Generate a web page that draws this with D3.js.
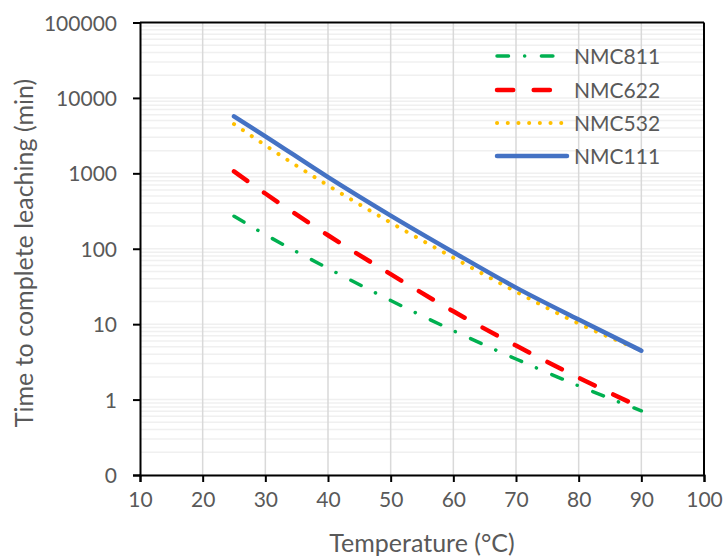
<!DOCTYPE html>
<html>
<head>
<meta charset="utf-8">
<script src="https://cdn.jsdelivr.net/npm/d3@7"></script>
<style>
  html, body { margin: 0; padding: 0; background: #ffffff; }
  svg { display: block; font-family: Lato, "Open Sans", sans-serif; }
</style>
</head>
<body>
<svg id="chart" width="725" height="557"></svg>
<script>
// ---- data ----
const temperatures = [25, 30, 40, 50, 60, 70, 80, 90];
const nmc811 = [270, 154, 55, 20.6, 8.2, 3.45, 1.52, 0.71];
const nmc622 = [1060, 540, 151, 46, 14.8, 5.2, 1.95, 0.78];
const nmc532 = [4500, 2350, 690, 222, 76, 27, 10.2, 4.5];
const nmc111 = [5700, 3100, 890, 275, 90, 30.5, 11.5, 4.45];
const seriesNames = ["NMC811", "NMC622", "NMC532", "NMC111"];
const xTicks = [10, 20, 30, 40, 50, 60, 70, 80, 90, 100];
const yTicks = [0.1, 1, 10, 100, 1000, 10000, 100000];
const yTickLabels = ["0", "1", "10", "100", "1000", "10000", "100000"];
const xTitle = "Temperature (°C)";
const yTitle = "Time to complete leaching (min)";

// ---- layout / styles ----
const L = 140, R = 704, T = 22.5, B = 475;
const styles = {
  NMC811: { color: "#00B050", width: 3.5, dash: "11.5,16.1,0.1,16.7" },
  NMC622: { color: "#FF0000", width: 4.5, dash: "16.2,20.5" },
  NMC532: { color: "#FFC000", width: 4,   dash: "0.1,10.6" },
  NMC111: { color: "#4472C4", width: 4.5, dash: null }
};
const seriesValues = { NMC811: nmc811, NMC622: nmc622, NMC532: nmc532, NMC111: nmc111 };

const svg = d3.select("#chart");
svg.append("rect").attr("width", 725).attr("height", 557).attr("fill", "#fff");

const x = d3.scaleLinear().domain([10, 100]).range([L, R]);
const y = d3.scaleLog().domain([0.1, 100000]).range([B, T]);

// minor horizontal gridlines
const minor = [];
for (let e = -1; e < 5; e++) {
  for (let m = 1; m <= 9; m++) minor.push(m * Math.pow(10, e));
}
svg.append("g").selectAll("line").data(minor).join("line")
  .attr("x1", L).attr("x2", R)
  .attr("y1", d => y(d)).attr("y2", d => y(d))
  .attr("stroke", "#f0f0f0").attr("stroke-width", 1.5);

// vertical gridlines
svg.append("g").selectAll("line").data(xTicks.slice(1, -1)).join("line")
  .attr("x1", d => x(d)).attr("x2", d => x(d))
  .attr("y1", T).attr("y2", B)
  .attr("stroke", "#d9d9d9").attr("stroke-width", 1.5);

// plot border top/right
svg.append("line").attr("x1", L).attr("x2", R).attr("y1", T).attr("y2", T)
  .attr("stroke", "#000").attr("stroke-width", 2);
svg.append("line").attr("x1", R).attr("x2", R).attr("y1", T).attr("y2", B)
  .attr("stroke", "#000").attr("stroke-width", 2);

// axes
const xAxis = d3.axisBottom(x).tickValues(xTicks).tickSize(7).tickPadding(10).tickFormat(d3.format("d"));
const gx = svg.append("g").attr("transform", `translate(0,${B})`).call(xAxis);
const yAxis = d3.axisLeft(y).tickValues(yTicks).tickSize(7).tickPadding(16)
  .tickFormat((d, i) => yTickLabels[i]);
const gy = svg.append("g").attr("transform", `translate(${L},0)`).call(yAxis);
[gx, gy].forEach(g => {
  g.select(".domain").attr("stroke", "#000").attr("stroke-width", 2);
  g.selectAll(".tick line").attr("stroke", "#000").attr("stroke-width", 2);
  g.selectAll(".tick text").attr("fill", "#595959").style("font-size", "21px")
    .style("font-family", "Lato, 'Open Sans', sans-serif");
});
gy.selectAll(".tick text").attr("dy", "0.36em");
gx.selectAll(".tick text").attr("dy", "0.72em");

// axis titles
svg.append("text").attr("x", (L + R) / 2).attr("y", 552)
  .attr("text-anchor", "middle").attr("fill", "#595959")
  .style("font-size", "25px").text(xTitle);
svg.append("text").attr("transform", `translate(33,${253}) rotate(-90)`)
  .attr("text-anchor", "middle").attr("fill", "#595959")
  .style("font-size", "25px").text(yTitle);

// series lines
const line = d3.line().x(d => x(d[0])).y(d => y(d[1])).curve(d3.curveMonotoneX);
seriesNames.forEach(name => {
  const st = styles[name];
  const pts = temperatures.map((t, i) => [t, seriesValues[name][i]]);
  svg.append("path").datum(pts).attr("d", line)
    .attr("fill", "none").attr("stroke", st.color)
    .attr("stroke-width", st.width).attr("stroke-linecap", "round")
    .attr("stroke-linejoin", "round")
    .attr("stroke-dasharray", st.dash);
});

// legend
const legendY = [56, 90, 123, 156];
const lg = svg.append("g");
seriesNames.forEach((name, i) => {
  const st = styles[name];
  lg.append("line").attr("x1", 497).attr("x2", 567)
    .attr("y1", legendY[i]).attr("y2", legendY[i])
    .attr("stroke", st.color).attr("stroke-width", st.width)
    .attr("stroke-linecap", "round").attr("stroke-dasharray", st.dash);
  lg.append("text").attr("x", 574).attr("y", legendY[i]).attr("dy", "0.36em")
    .attr("fill", "#595959").style("font-size", "21px").text(name);
});
</script>
</body>
</html>
